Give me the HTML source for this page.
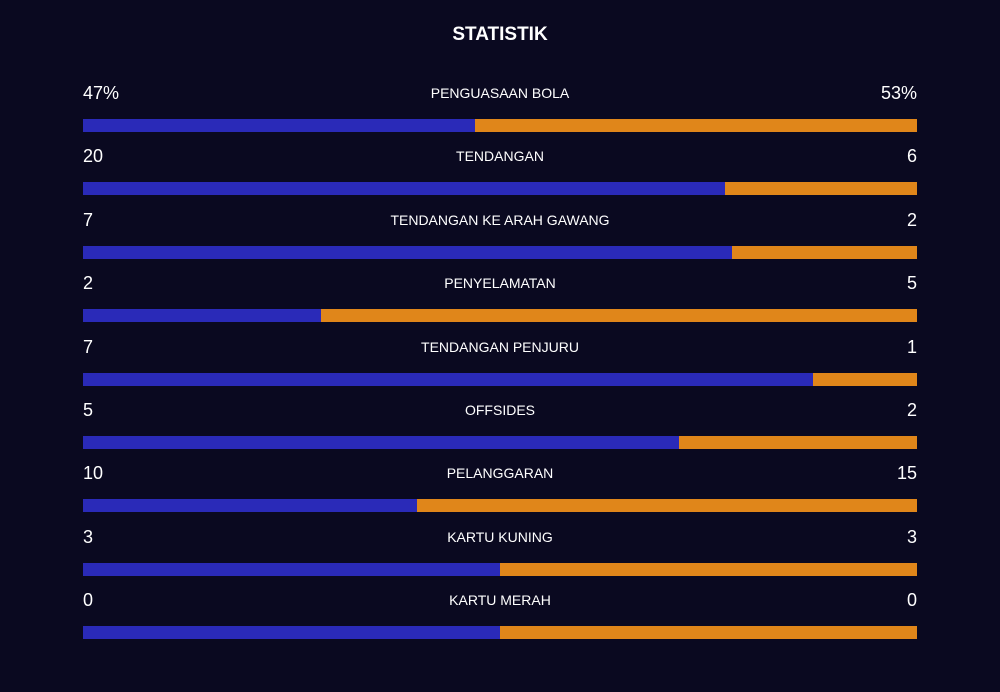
<!DOCTYPE html>
<html><head><meta charset="utf-8"><style>
body{margin:0;width:1000px;height:692px;background:#0a0920;font-family:"Liberation Sans",sans-serif;color:#fff;overflow:hidden;position:relative}
.t{position:absolute;left:0;width:1000px;top:24px;text-align:center;font-weight:bold;font-size:19px}
.v{position:absolute;font-size:18px;line-height:20px}
.l{position:absolute;left:200px;width:600px;text-align:center;font-size:14px;line-height:20px}
.b{position:absolute;height:13px}
</style></head><body>
<div class="t">STATISTIK</div>
<div id="c"></div>
<script>
const labels=["PENGUASAAN BOLA","TENDANGAN","TENDANGAN KE ARAH GAWANG","PENYELAMATAN","TENDANGAN PENJURU","OFFSIDES","PELANGGARAN","KARTU KUNING","KARTU MERAH"];
const home=[47,20,7,2,7,5,10,3,0];
const away=[53,6,2,5,1,2,15,3,0];
const suffix=["%","","","","","","","",""];
const c=document.getElementById('c');
const X0=83,W=834;
for(let i=0;i<labels.length;i++){
  const y=119+i*63.4;
  const tot=home[i]+away[i];
  const f=tot?home[i]/tot:0.5;
  const sx=X0+W*f;
  const a=document.createElement('div');a.className='v';a.style.left='83px';a.style.top=(y-36)+'px';a.textContent=home[i]+suffix[i];
  
  
  const b=document.createElement('div');b.className='v';b.style.right='83px';b.style.top=(y-36)+'px';b.textContent=away[i]+suffix[i];
  
  
  const l=document.createElement('div');l.className='l';l.style.top=(y-36)+'px';l.textContent=labels[i];
  
  
  const h=document.createElement('div');h.className='b';h.style.cssText+='left:'+X0+'px;top:'+y+'px;width:'+(sx-X0)+'px;background:#2a2ab8';
  
  
  const w=document.createElement('div');w.className='b';w.style.cssText+='left:'+sx+'px;top:'+y+'px;width:'+(X0+W-sx)+'px;background:#e0861a';
  
  
  [a,b,l,h,w].forEach(e=>c.appendChild(e));
}
</script>
</body></html>
